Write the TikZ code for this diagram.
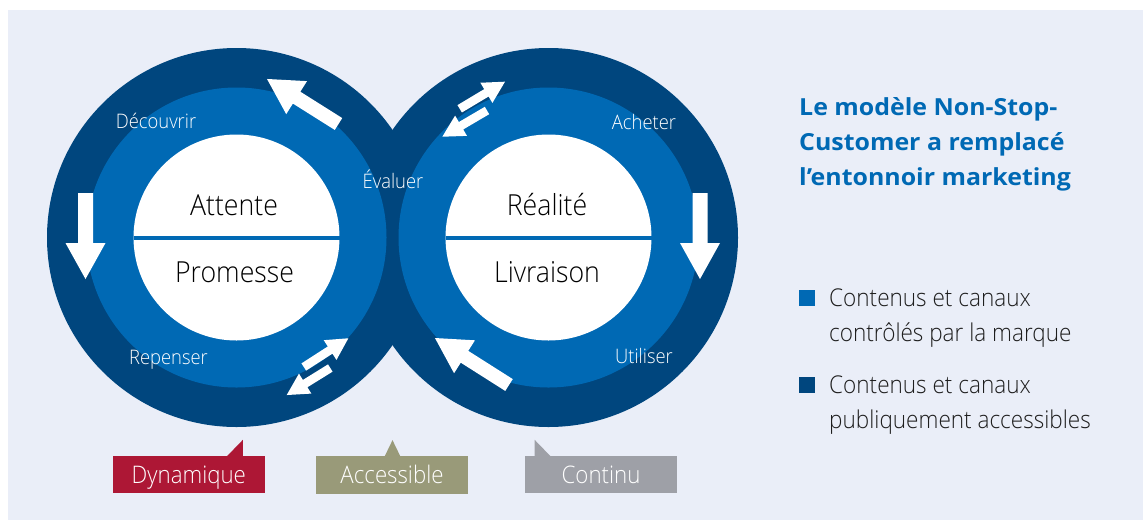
\documentclass[tikz,border=0pt]{standalone}
\usepackage{fontspec}
\setmainfont{Open Sans Light}[FakeStretch=0.92]
\newfontfamily\headfont{Open Sans}[FakeStretch=1.06]
\usetikzlibrary{calc}

\definecolor{panel}{HTML}{EAEEF8}
\definecolor{ringdark}{HTML}{00467E}
\definecolor{ringmid}{HTML}{0069B4}
\definecolor{tagred}{HTML}{AD1735}
\definecolor{tagolive}{HTML}{999A79}
\definecolor{taggrey}{HTML}{9EA0A7}
\definecolor{legendtext}{HTML}{1E1E1E}

% white block arrow: tail point, direction angle, total length,
% shaft width, head width, head length
\newcommand{\blockarrow}[6]{%
  \fill[white, shift={(#1)}, rotate=#2]
    (0,{-#4/2}) -- ({#3-#6},{-#4/2}) -- ({#3-#6},{-#5/2}) -- (#3,0)
    -- ({#3-#6},{#5/2}) -- ({#3-#6},{#4/2}) -- (0,{#4/2}) -- cycle;}

\begin{document}
\begin{tikzpicture}[x=1pt, y=-1pt,
  bigword/.style={anchor=base, inner sep=0pt, text=black,
    font=\fontsize{29}{34}\selectfont},
  stagelabel/.style={anchor=base, inner sep=0pt, text=white,
    font=\fontsize{20}{24}\selectfont},
  titleline/.style={anchor=base west, inner sep=0pt, text=ringmid,
    font=\headfont\bfseries\fontsize{23.5}{35}\selectfont},
  legendline/.style={anchor=base west, inner sep=0pt, text=legendtext,
    font=\fontsize{24.5}{35}\selectfont},
  tag/.style={rectangle, inner sep=0pt, minimum width=152.3pt,
    minimum height=37.3pt, text=white, text height=17.3pt, text depth=0pt,
    font=\fontsize{24.2}{28}\selectfont}]

\useasboundingbox (0,0) rectangle (1147,520);
\fill[white] (0,0) rectangle (1147,520);
\fill[panel] (8,10) rectangle (1143,520);

% the two linked loops
\coordinate (lc) at (236.5,237.5);
\coordinate (rc) at (548.5,237.5);
\fill[ringdark] (lc) circle[radius=189.5];
\fill[ringdark] (rc) circle[radius=189.5];
\fill[ringmid] (lc) circle[radius=150];
\fill[ringmid] (rc) circle[radius=150];
\fill[white] (lc) circle[radius=103];
\fill[white] (rc) circle[radius=103];
\draw[ringmid, line width=4pt] ($(lc)+(-103,0)$) -- ($(lc)+(103,0)$);
\draw[ringmid, line width=4pt] ($(rc)+(-103,0)$) -- ($(rc)+(103,0)$);

% centre words
\node[bigword] (attente) at (234,215) {Attente};
\node[bigword] (promesse) at (234.5,282) {Promesse};
\node[bigword] (realite) at (547,215) {Réalité};
\node[bigword] (livraison) at (547,282) {Livraison};

% stages around the loops
\node[stagelabel] (decouvrir) at (156,128) {Découvrir};
\node[stagelabel] (evaluer) at (393,188) {Évaluer};
\node[stagelabel] (repenser) at (168.5,364) {Repenser};
\node[stagelabel] (acheter) at (644,129) {Acheter};
\node[stagelabel] (utiliser) at (644,363) {Utiliser};

% flow arrows
\blockarrow{338.5,124}{147.8}{84.5}{14}{39}{35}
\blockarrow{85.5,193}{-90}{86}{15}{40}{36}
\blockarrow{509,385}{147.6}{87.7}{14}{39}{35}
\blockarrow{700,193}{-90}{86}{15}{40}{36}
% two-way exchanges
\blockarrow{303.8,367}{32.8}{53}{8.6}{23.5}{21.7}
\blockarrow{330.3,368}{211.8}{51.3}{8.6}{23.5}{21.7}
\blockarrow{459.7,108.8}{30.9}{52.8}{8.6}{23.5}{21.7}
\blockarrow{487,110.5}{210.4}{51.8}{8.6}{23.5}{21.7}

% title
\node[titleline] (title1) at (799,115) {Le modèle Non-Stop-};
\node[titleline] (title2) at (799,150.5) {Customer a remplacé};
\node[titleline] (title3) at (799,185) {l’entonnoir marketing};

% legend
\fill[ringmid] (799,290) rectangle (815,306);
\fill[ringdark] (799,377) rectangle (815,393);
\node[legendline] (leg1a) at (829,306.7) {Contenus et canaux};
\node[legendline] (leg1b) at (829,341.7) {contrôlés par la marque};
\node[legendline] (leg2a) at (829,393) {Contenus et canaux};
\node[legendline] (leg2b) at (829,428) {publiquement accessibles};

% callouts
\node[tag, fill=tagred] (dyn) at (188.8,474.7) {Dynamique};
\fill[tagred] ($(dyn.north east)+(-38.3,0.5)$) -- ($(dyn.north east)+(-22.3,-16)$)
  -- ($(dyn.north east)+(-22.3,0.5)$) -- cycle;
\node[tag, fill=tagolive] (acc) at (392,475) {Accessible};
\fill[tagolive] ($(acc.north)+(-7.5,0.5)$) -- ($(acc.north)+(0.5,-16)$)
  -- ($(acc.north)+(8.5,0.5)$) -- cycle;
\node[tag, fill=taggrey] (cont) at (601,474.7) {Continu};
\fill[taggrey] ($(cont.north west)+(10,0.5)$) -- ($(cont.north west)+(10,-16)$)
  -- ($(cont.north west)+(26,0.5)$) -- cycle;
\end{tikzpicture}
\end{document}
